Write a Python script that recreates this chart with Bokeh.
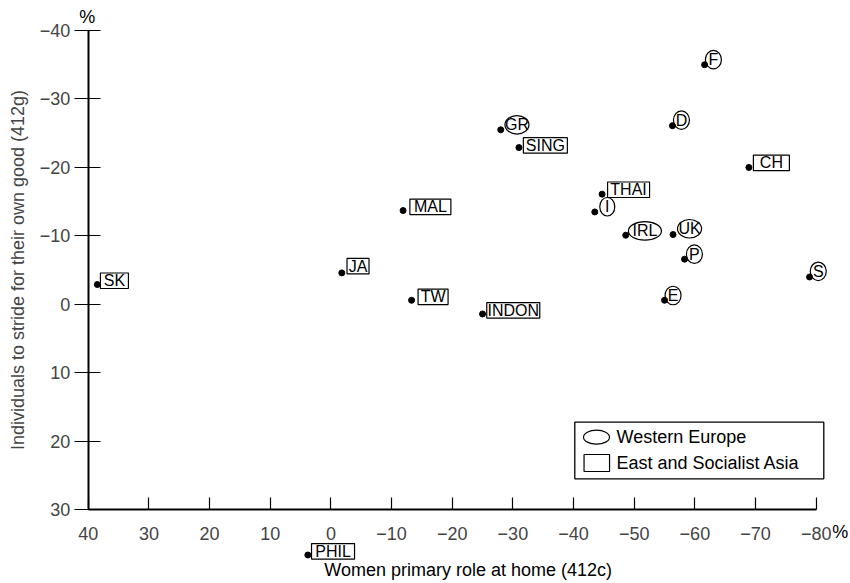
from bokeh.plotting import figure
from bokeh.models import Range1d, FixedTicker, LinearAxis
from bokeh.core.properties import value
from bokeh.embed import file_html
from bokeh.resources import INLINE

# ---------------- data ----------------
labels = ["F", "D", "GR", "SING", "MAL", "JA", "TW", "INDON", "SK", "PHIL",
          "CH", "THAI", "I", "IRL", "UK", "P", "S", "E"]
groups = ["Western Europe", "Western Europe", "Western Europe", "East and Socialist Asia",
          "East and Socialist Asia", "East and Socialist Asia", "East and Socialist Asia",
          "East and Socialist Asia", "East and Socialist Asia", "East and Socialist Asia",
          "East and Socialist Asia", "East and Socialist Asia", "Western Europe",
          "Western Europe", "Western Europe", "Western Europe", "Western Europe",
          "Western Europe"]
women_home = [-61.6, -56.3, -28.0, -31.0, -11.9, -1.8, -13.3, -25.0, 38.5, 3.8,
              -68.9, -44.7, -43.5, -48.6, -56.4, -58.3, -78.9, -55.0]
stride_good = [-35.0, -26.1, -25.5, -22.9, -13.7, -4.6, -0.6, 1.4, -2.9, 36.6,
               -20.0, -16.1, -13.5, -10.1, -10.2, -6.6, -4.0, -0.6]

xticks = [40, 30, 20, 10, 0, -10, -20, -30, -40, -50, -60, -70, -80]
yticks = [-40, -30, -20, -10, 0, 10, 20, 30]
legend_labels = ["Western Europe", "East and Socialist Asia"]
x_title = "Women primary role at home (412c)"
y_title = "Individuals to stride for their own good (412g)"

# ---------------- label styling (pixel offsets / sizes) ----------------
label_dx = [8.8, 9.0, 16.2, 26.4, 27.3, 16.2, 21.5, 30.7, 17.1, 25.2,
            22.5, 26.5, 12.5, 19.2, 16.5, 9.8, 8.7, 8.5]
label_dy = [-5.1, -5.6, -5.0, -2.2, -3.8, -6.7, -3.5, -3.7, -3.8, -3.7,
            -4.5, -4.4, -5.2, -4.3, -5.8, -5.0, -5.7, -4.8]
shape_w = [16, 16, 24, 44, 41, 22, 30, 53, 28, 43, 36, 42, 15, 33, 24, 16, 16, 16]

def fmt(t):
    return "\u2212" + str(abs(t)) if t < 0 else str(t)

FONT = "Liberation Sans"
W, H = 850, 583
X_START, X_END = 54.46, -85.65
Y_START, Y_END = 40.76, -44.38
kx = W / (X_START - X_END)
ky = H / (Y_START - Y_END)

def sx2x(sx):
    return X_START - sx / kx

def sy2y(sy):
    return Y_END + sy / ky

p = figure(frame_width=W, frame_height=H,
           x_range=Range1d(X_START, X_END), y_range=Range1d(Y_START, Y_END),
           x_axis_location=None, y_axis_location=None,
           output_backend="svg", toolbar_location=None, min_border=0)
p.grid.visible = False
p.outline_line_color = None
p.background_fill_color = "white"

def style_axis(ax, ticks):
    ax.ticker = FixedTicker(ticks=ticks)
    ax.bounds = (min(ticks), max(ticks))
    ax.major_label_overrides = {t: fmt(t) for t in ticks}
    ax.minor_tick_line_color = None
    ax.axis_line_width = 2
    ax.major_tick_line_width = 1.2
    ax.major_label_text_font = FONT
    ax.major_label_text_font_size = "18px"
    ax.axis_label_text_font = FONT
    ax.axis_label_text_font_size = "18px"
    ax.axis_label_text_font_style = "normal"

# y axis at x = 40
ya = LinearAxis(fixed_location=xticks[0], axis_label=y_title)
style_axis(ya, yticks)
ya.major_tick_in = 12
ya.major_tick_out = 14
ya.major_label_standoff = 4
ya.axis_label_standoff = 9
p.add_layout(ya, "left")

# x axis at y = 30
xa = LinearAxis(fixed_location=yticks[-1])
style_axis(xa, xticks)
xa.major_tick_in = 12
xa.major_tick_out = 0
xa.major_label_standoff = 17
p.add_layout(xa, "below")

# x axis title
p.text(x=[(xticks[0] + xticks[-1]) / 2], y=[yticks[-1]], text=[x_title],
       text_align="center", text_baseline="middle", x_offset=16, y_offset=60,
       text_font=value(FONT), text_font_size="18px", text_color="black")

# percent signs
p.text(x=[xticks[-1]], y=[yticks[-1]], text=["%"], text_align="left",
       text_baseline="middle", x_offset=16, y_offset=22,
       text_font=value(FONT), text_font_size="18px")
p.text(x=[xticks[0]], y=[yticks[0]], text=["%"], text_align="center",
       text_baseline="middle", x_offset=-1, y_offset=-13,
       text_font=value(FONT), text_font_size="18px")

# label shapes
cx = [x - dx / kx for x, dx in zip(women_home, label_dx)]
cy = [y + dy / ky for y, dy in zip(stride_good, label_dy)]
we = [i for i, g in enumerate(groups) if g == legend_labels[0]]
asia = [i for i, g in enumerate(groups) if g == legend_labels[1]]

p.ellipse(x=[cx[i] for i in we], y=[cy[i] for i in we],
          width=[shape_w[i] for i in we], height=18.5,
          width_units="screen", height_units="screen",
          fill_color="white", line_color="black", line_width=1.2)
p.rect(x=[cx[i] for i in asia], y=[cy[i] for i in asia],
       width=[shape_w[i] for i in asia], height=15.5,
       width_units="screen", height_units="screen",
       fill_color="white", line_color="black", line_width=1.2)
p.text(x=cx, y=cy, text=labels, text_align="center", text_baseline="middle",
       text_font=value(FONT), text_font_size="16px", text_color="black")
p.scatter(x=women_home, y=stride_good, size=6, color="black")

# legend box
p.quad(left=[sx2x(574.3)], right=[sx2x(823.3)], top=[sy2y(421.7)], bottom=[sy2y(478.3)],
       fill_color="white", line_color="black", line_width=1.3)
p.ellipse(x=[sx2x(596)], y=[sy2y(436.7)], width=26, height=14,
          width_units="screen", height_units="screen",
          fill_color="white", line_color="black", line_width=1.2)
p.rect(x=[sx2x(596.3)], y=[sy2y(462.5)], width=25.5, height=17,
       width_units="screen", height_units="screen",
       fill_color="white", line_color="black", line_width=1.2)
p.text(x=[sx2x(616)] * 2, y=[sy2y(436.7), sy2y(462.5)], text=legend_labels,
       text_align="left", text_baseline="middle",
       text_font=value(FONT), text_font_size="18px", text_color="black")

open("out.html", "w").write(file_html(p, INLINE))
